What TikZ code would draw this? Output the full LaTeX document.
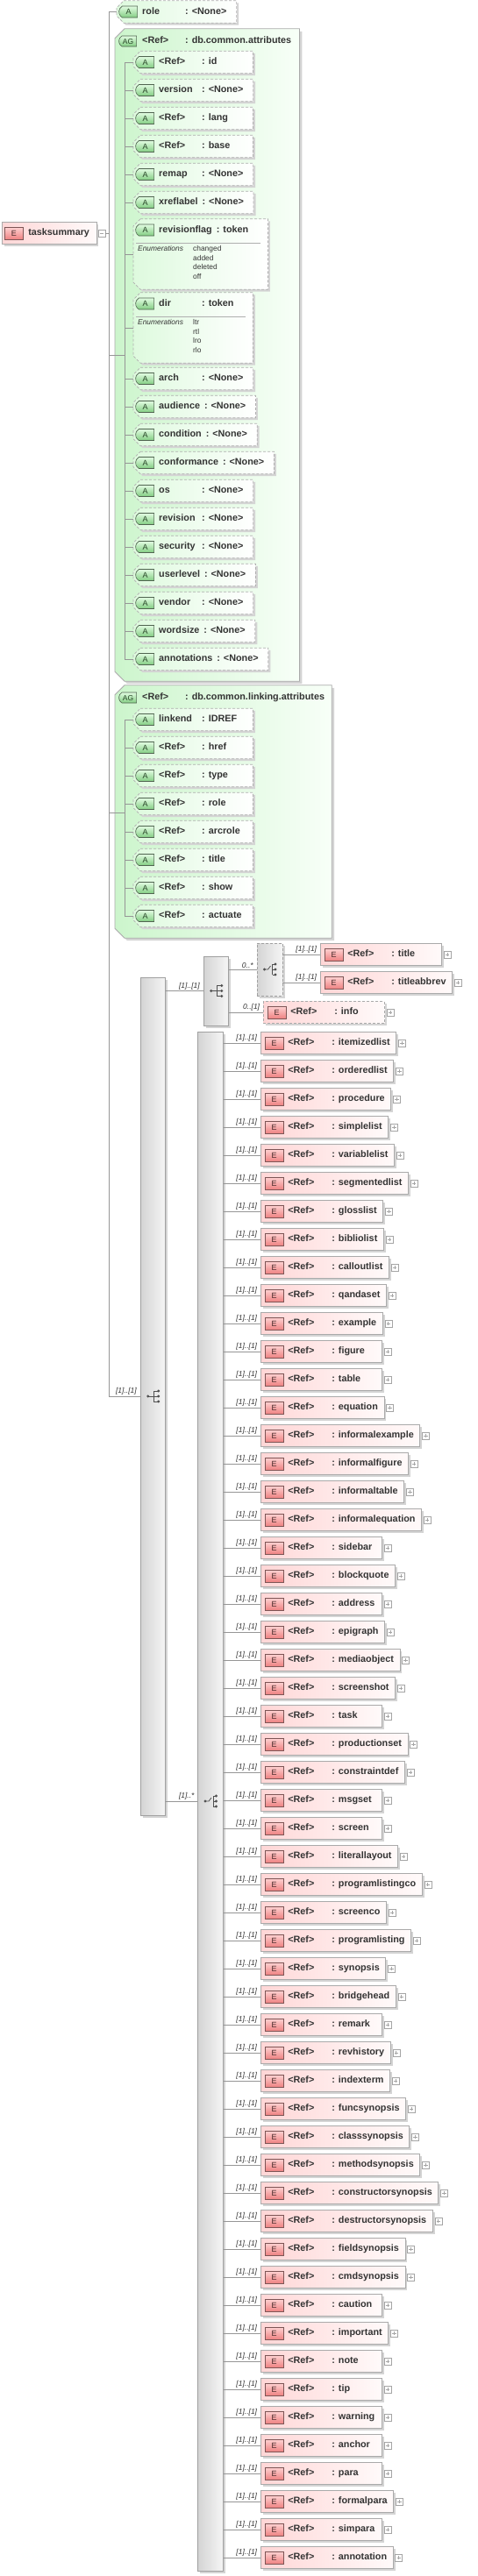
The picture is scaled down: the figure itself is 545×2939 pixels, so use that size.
\documentclass[tikz,border=0pt]{standalone}
\usepackage{fontspec}
\setmainfont{Liberation Sans}
\usepackage{tikz}
\usetikzlibrary{calc,shapes.misc,shadows}

\pgfdeclarelayer{background}
\pgfsetlayers{background,main}

% box helpers
\newlength\boxw
\newlength\namew
\newcommand\minbox[2]{\settowidth\boxw{#2}\ifdim\boxw<#1\relax\setlength\boxw{#1}\fi\makebox[\boxw][l]{#2}}
\newcommand\namecol[2]{\settowidth\namew{#2}\addtolength\namew{5pt}\ifdim\namew<#1\relax\setlength\namew{#1}\fi\makebox[\namew][l]{#2}}
\newcommand\attrline[3][136pt]{\minbox{#1}{\hspace*{29pt}\namecol{49pt}{#2}: #3\hspace*{11pt}}}
\newcommand\elemline[1]{\minbox{138pt}{\hspace*{31pt}\namecol{50pt}{<Ref>}: #1\hspace*{7pt}}}
\newcommand\chamferbox[4]{\path[#1] ($(#2)+(#4,0)$) -- (#3 |- #2) -- (#3) -- ($(#2 |- #3)+(#4,0)$) -- ($(#2 |- #3)+(0,-#4)$) -- ($(#2)+(0,#4)$) -- cycle;}
\newcommand\seqicon[1]{%
  \fill[icongray] ($(#1)+(-5.5,0)$) circle (1.6pt);
  \draw[icon] ($(#1)+(-5.5,0)$) -- ($(#1)+(1,0)$);
  \draw[icon] ($(#1)+(1,-6)$) -- ($(#1)+(1,6)$);
  \foreach \dy in {-6,0,6} {
    \draw[icon] ($(#1)+(1,\dy)$) -- ($(#1)+(6.5,\dy)$);
    \fill[icongray] ($(#1)+(6.5,\dy)$) circle (1.6pt);}}
\newcommand\choiceicon[1]{%
  \fill[icongray] ($(#1)+(-6,0)$) circle (1.6pt);
  \draw[icon] ($(#1)+(-6,0)$) -- ($(#1)+(-2,0)$) -- ($(#1)+(1,-4)$);
  \draw[icon] ($(#1)+(3,-6)$) -- ($(#1)+(3,6)$);
  \foreach \dy in {-6,0,6} {
    \draw[icon] ($(#1)+(3,\dy)$) -- ($(#1)+(6.5,\dy)$);
    \fill[icongray] ($(#1)+(6.5,\dy)$) circle (1.6pt);}}

\begin{document}
\begin{tikzpicture}[x=1pt, y=-1pt,
  conn/.style={draw=linegray, line width=0.8pt},
  mult/.style={pos=1, anchor=south east, xshift=-3pt, yshift=0.5pt, inner sep=0.5pt,
    font=\itshape\fontsize{8.5}{9}\selectfont, text=textgray},
  elem/.style={rectangle, anchor=west, draw=boxgray, line width=0.7pt,
    left color=elempink, right color=elemlight, inner sep=0pt, minimum height=25pt,
    text height=8pt, text depth=2.5pt, font=\bfseries\fontsize{10.8}{12}\selectfont,
    text=textgray, general shadow={fill=shadowgray, shadow xshift=2.5pt, shadow yshift=-2.5pt}},
  attrtext/.style={rectangle, anchor=west, inner sep=0pt, minimum height=25pt,
    text height=8pt, text depth=2.5pt, font=\bfseries\fontsize{10.8}{12}\selectfont, text=textgray},
  aghead/.style={attrtext, minimum height=28pt},
  attrframe/.style={draw=dashgray, line width=0.7pt, dash pattern=on 3pt off 2pt,
    left color=attrgreen, right color=white,
    general shadow={fill=shadowgray, shadow xshift=2.5pt, shadow yshift=-2.5pt}},
  agframe/.style={draw=boxgray, line width=0.8pt, left color=aggreen, right color=aglight,
    general shadow={fill=shadowgray, shadow xshift=3pt, shadow yshift=-3pt}},
  seqbox/.style={rectangle, draw=seqline, line width=0.7pt, left color=seqdark, right color=seqlight,
    general shadow={fill=shadowgray, shadow xshift=2.5pt, shadow yshift=-2.5pt}},
  abadge/.style={rounded rectangle, rounded rectangle right arc=none, rounded rectangle arc length=120,
    draw=abadgeline, line width=0.6pt, top color=abadgetop, bottom color=abadgebot,
    minimum width=21pt, minimum height=13pt, inner sep=0pt, text height=6.5pt, text depth=0pt,
    font=\fontsize{9}{9}\selectfont, text=abadgetext},
  agbadge/.style={abadge, minimum width=20pt, minimum height=12pt, font=\fontsize{8.5}{9}\selectfont},
  ebadge/.style={rectangle, draw=ebadgeline, line width=0.6pt, top color=ebadgetop, bottom color=ebadgebot,
    minimum width=21pt, minimum height=14pt, inner sep=0pt, text height=6.5pt, text depth=0pt,
    font=\fontsize{9}{9}\selectfont, text=ebadgetext},
  expplus/.style={rectangle, anchor=west, draw=expline, fill=white, line width=0.5pt,
    minimum size=8pt, inner sep=0pt,
    path picture={\draw[expline, line width=0.6pt]
      ([xshift=1.8pt]path picture bounding box.west) -- ([xshift=-1.8pt]path picture bounding box.east)
      ([yshift=-1.8pt]path picture bounding box.north) -- ([yshift=1.8pt]path picture bounding box.south);}},
  expminus/.style={rectangle, anchor=west, draw=expline, fill=white, line width=0.5pt,
    minimum size=8pt, inner sep=0pt,
    path picture={\draw[expline, line width=0.6pt]
      ([xshift=1.8pt]path picture bounding box.west) -- ([xshift=-1.8pt]path picture bounding box.east);}},
  sepline/.style={draw=dashgray, line width=0.6pt},
  enumlbl/.style={anchor=north west, inner sep=1pt, font=\itshape\fontsize{8.4}{10.7}\selectfont, text=textgray},
  enumval/.style={anchor=north west, inner sep=1pt, align=left, font=\fontsize{8.4}{10.7}\selectfont, text=textgray},
  icon/.style={draw=icongray, line width=0.8pt}
]
% Define colors
\definecolor{textgray}{RGB}{51,51,51}
\definecolor{linegray}{RGB}{150,150,150}
\definecolor{boxgray}{RGB}{170,170,170}
\definecolor{dashgray}{RGB}{175,175,175}
\definecolor{shadowgray}{RGB}{212,212,212}
\definecolor{elempink}{RGB}{255,214,214}
\definecolor{elemlight}{RGB}{255,250,250}
\definecolor{attrgreen}{RGB}{222,250,222}
\definecolor{aggreen}{RGB}{204,245,204}
\definecolor{aglight}{RGB}{248,255,248}
\definecolor{seqdark}{RGB}{212,212,212}
\definecolor{seqlight}{RGB}{245,245,245}
\definecolor{seqline}{RGB}{160,160,160}
\definecolor{abadgeline}{RGB}{80,100,80}
\definecolor{abadgetop}{RGB}{225,252,225}
\definecolor{abadgebot}{RGB}{130,205,130}
\definecolor{abadgetext}{RGB}{40,70,40}
\definecolor{ebadgeline}{RGB}{125,85,85}
\definecolor{ebadgetop}{RGB}{255,210,210}
\definecolor{ebadgebot}{RGB}{238,130,130}
\definecolor{ebadgetext}{RGB}{70,40,40}
\definecolor{expline}{RGB}{165,165,165}
\definecolor{icongray}{RGB}{80,80,80}

% Set background
\begin{pgfonlayer}{background}
  \fill[white] (0,0) rectangle (545,2939);
\end{pgfonlayer}
\useasboundingbox (0,0) rectangle (545,2939);

% Root element
\node[elem] (ts) at (2,266) {\hspace*{30pt}tasksummary\hspace*{8pt}};
\node[ebadge] (ts-b) at ($(ts.west)+(14,0)$) {E};
\node[expminus] (ts-x) at ($(ts.east)+(1.5,0)$) {};

% role attribute
\node[attrtext] (role) at (133,13.5) {\attrline[135pt]{role}{<None>}};
\node[abadge] (role-b) at ($(role.west)+(13.5,0)$) {A};

% Attribute group db.common.attributes
\node[aghead] (agc) at (131,47) {\hspace*{31pt}\namecol{49pt}{<Ref>}: db.common.attributes\hspace*{9pt}};
\node[agbadge] (agc-b) at ($(agc.west)+(15,0)$) {AG};
\foreach \k/\nm/\ty/\yy in {id/<Ref>/id/71, version/version/<None>/103, lang/<Ref>/lang/135,
    base/<Ref>/base/167, remap/remap/<None>/199, xreflabel/xreflabel/<None>/231,
    arch/arch/<None>/432, audience/audience/<None>/464, condition/condition/<None>/496,
    conformance/conformance/<None>/528, os/os/<None>/560, revision/revision/<None>/592,
    security/security/<None>/624, userlevel/userlevel/<None>/656, vendor/vendor/<None>/688,
    wordsize/wordsize/<None>/720, ann/annotations/<None>/752}
{
  \node[attrtext] (a-\k) at (152,\yy) {\attrline{\nm}{\ty}};
  \node[abadge] (a-\k-b) at ($(a-\k.west)+(13.5,0)$) {A};
}

% revisionflag with enumerations
\node[attrtext] (a-rf) at (152,262.5) {\attrline[153pt]{revisionflag}{token}};
\node[abadge] (a-rf-b) at ($(a-rf.west)+(13.5,0)$) {A};
\draw[sepline] ($(a-rf.south west)+(3,2)$) -- ($(a-rf.south east)+(-8,2)$);
\node[enumlbl] (a-rf-e) at ($(a-rf.south west)+(4,4)$) {Enumerations};
\node[enumval] (a-rf-v) at ($(a-rf.south west)+(67,4)$) {changed\\added\\deleted\\off};
\coordinate (a-rf-br) at ($(a-rf.south east)+(0,55)$);
\coordinate (a-rf-in) at ($(a-rf.west)+(0,27.5)$);

% dir with enumerations
\node[attrtext] (a-dir) at (152,346.5) {\attrline{dir}{token}};
\node[abadge] (a-dir-b) at ($(a-dir.west)+(13.5,0)$) {A};
\draw[sepline] ($(a-dir.south west)+(3,2)$) -- ($(a-dir.south east)+(-8,2)$);
\node[enumlbl] (a-dir-e) at ($(a-dir.south west)+(4,4)$) {Enumerations};
\node[enumval] (a-dir-v) at ($(a-dir.south west)+(67,4)$) {ltr\\rtl\\lro\\rlo};
\coordinate (a-dir-br) at ($(a-dir.south east)+(0,55)$);
\coordinate (a-dir-in) at ($(a-dir.west)+(0,27.5)$);

\coordinate (agc-br) at ($(agc.east |- a-ann.south)+(0,12.5)$);
\coordinate (agc-bus) at ($(a-id.west)+(-10,0)$);
\coordinate (agc-in) at ($(agc-bus)+(0,334)$);

% Attribute group db.common.linking.attributes
\node[aghead] (agl) at (131,796) {\hspace*{31pt}\namecol{49pt}{<Ref>}: db.common.linking.attributes\hspace*{8pt}};
\node[agbadge] (agl-b) at ($(agl.west)+(15,0)$) {AG};
\foreach \k/\nm/\ty/\yy in {linkend/linkend/IDREF/821, href/<Ref>/href/853, type/<Ref>/type/885,
    lrole/<Ref>/role/917, arcrole/<Ref>/arcrole/949, ltitle/<Ref>/title/981,
    show/<Ref>/show/1013, actuate/<Ref>/actuate/1045}
{
  \node[attrtext] (a-\k) at (152,\yy) {\attrline{\nm}{\ty}};
  \node[abadge] (a-\k-b) at ($(a-\k.west)+(13.5,0)$) {A};
}
\coordinate (agl-br) at ($(agl.east |- a-actuate.south)+(0,12.5)$);
\coordinate (agl-bus) at ($(a-linkend.west)+(-10,0)$);
\coordinate (agl-in) at ($(agl-bus)+(0,106)$);

% Frames behind the attribute texts
\begin{pgfonlayer}{background}
  \chamferbox{agframe}{agc.north west}{agc-br}{11}
  \chamferbox{agframe}{agl.north west}{agl-br}{11}
  \chamferbox{attrframe}{role.north west}{role.south east}{8}
  \foreach \k in {id,version,lang,base,remap,xreflabel,arch,audience,condition,conformance,
      os,revision,security,userlevel,vendor,wordsize,ann,
      linkend,href,type,lrole,arcrole,ltitle,show,actuate}
    {\chamferbox{attrframe}{a-\k.north west}{a-\k.south east}{8}}
  \chamferbox{attrframe}{a-rf.north west}{a-rf-br}{8}
  \chamferbox{attrframe}{a-dir.north west}{a-dir-br}{8}
\end{pgfonlayer}

% Attribute connectors
\draw[conn] (agc-bus) |- (a-ann.west);
\foreach \k in {id,version,lang,base,remap,xreflabel,arch,audience,condition,conformance,
    os,revision,security,userlevel,vendor,wordsize}
  \draw[conn] (agc-bus |- a-\k.west) -- (a-\k.west);
\draw[conn] (agc-bus |- a-rf-in) -- (a-rf-in);
\draw[conn] (agc-bus |- a-dir-in) -- (a-dir-in);
\draw[conn] (agl-bus) |- (a-actuate.west);
\foreach \k in {linkend,href,type,lrole,arcrole,ltitle,show}
  \draw[conn] (agl-bus |- a-\k.west) -- (a-\k.west);

% Model groups
\node[seqbox, minimum width=28.5pt, minimum height=956pt] (sqo) at (174.25,1593) {};
\node[seqbox, minimum width=28.5pt, minimum height=79pt] (sq2) at (246.25,1130.5) {};
\node[seqbox, dash pattern=on 3pt off 2pt, minimum width=29pt, minimum height=60pt] (cht) at (307.5,1106) {};
\node[seqbox, minimum width=28.5pt, minimum height=1756pt] (chc) at (240,2055) {};
\seqicon{sqo}
\seqicon{sq2}
\choiceicon{cht}
\choiceicon{chc}

% Main connectors
\coordinate (mb) at ($(role.west)+(-9,0)$);
\draw[conn] (ts-x.east) -- (mb |- ts-x.east);
\draw[conn] (role.west) -- (mb) |- (sqo.west) node[mult] {[1]..[1]};
\draw[conn] (mb |- agc-in) -- (agc-in);
\draw[conn] (mb |- agl-in) -- (agl-in);
\draw[conn] (sqo.east |- sq2.west) -- (sq2.west) node[mult] {[1]..[1]};
\draw[conn] (sqo.east |- chc.west) -- (chc.west) node[mult] {[1]..*};

% Title choice and info
\node[elem] (title) at (365,1089) {\elemline{title}};
\node[elem] (tabbr) at (365,1121) {\elemline{titleabbrev}};
\node[elem, dash pattern=on 3pt off 2pt] (info) at (300,1155) {\elemline{info}};
\foreach \e in {title,tabbr,info} {
  \node[ebadge] (\e-b) at ($(\e.west)+(15.5,0)$) {E};
  \node[expplus] (\e-x) at ($(\e.east)+(2,0)$) {};
}
\draw[conn] (sq2.east |- cht.west) -- (cht.west) node[mult] {0..*};
\draw[conn] (sq2.east |- info.west) -- (info.west) node[mult] {0..[1]};
\draw[conn] (cht.east |- title.west) -- (title.west) node[mult] {[1]..[1]};
\draw[conn] (cht.east |- tabbr.west) -- (tabbr.west) node[mult] {[1]..[1]};

% Block elements of the choice
\foreach \nm [count=\i] in {itemizedlist,orderedlist,procedure,simplelist,variablelist,
    segmentedlist,glosslist,bibliolist,calloutlist,qandaset,example,figure,table,equation,
    informalexample,informalfigure,informaltable,informalequation,sidebar,blockquote,address,
    epigraph,mediaobject,screenshot,task,productionset,constraintdef,msgset,screen,
    literallayout,programlistingco,screenco,programlisting,synopsis,bridgehead,remark,
    revhistory,indexterm,funcsynopsis,classsynopsis,methodsynopsis,constructorsynopsis,
    destructorsynopsis,fieldsynopsis,cmdsynopsis,caution,important,note,tip,warning,anchor,
    para,formalpara,simpara,annotation}
{
  \node[elem] (e\i) at (297,1158+32*\i) {\elemline{\nm}};
  \node[ebadge] (e\i-b) at ($(e\i.west)+(15.5,0)$) {E};
  \node[expplus] (e\i-x) at ($(e\i.east)+(2,0)$) {};
  \draw[conn] (chc.east |- e\i.west) -- (e\i.west) node[mult] {[1]..[1]};
}

\end{tikzpicture}
\end{document}
